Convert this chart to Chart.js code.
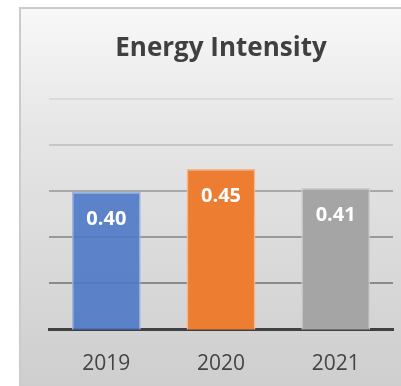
<!DOCTYPE html>
<html>
<head>
<meta charset="utf-8">
<script src="https://cdn.jsdelivr.net/npm/chart.js@4/dist/chart.umd.min.js"></script>
<style>
  html, body { margin: 0; padding: 0; background: #ffffff; }
  #wrap { position: relative; width: 401px; height: 386px; overflow: hidden; }
  #panel {
    position: absolute; left: 19px; top: 7px; width: 400px; height: 400px;
    border-left: 2px solid #cbcbcb; border-top: 2px solid #cbcbcb;
    background: linear-gradient(to bottom, #f8f8f8 0%, #e6e6e6 30%, #cccccc 100%);
  }
  #c { position: absolute; left: 0; top: 0; }
</style>
</head>
<body>
<div id="wrap">
  <div id="panel"></div>
  <canvas id="c" width="401" height="386"></canvas>
</div>
<script>
const categories = ['2019', '2020', '2021'];
const intensityValues = [0.398, 0.448, 0.407];
const barColors = ['rgba(78,121,199,0.9)', '#ED7D31', '#A5A5A5'];
const barBorderColors = ['#9db5e3', '#f6b68a', '#cdcdcd'];
const chartTitle = 'Energy Intensity';
const gridColors = { 0.2: '#8a8a8a', 0.3: '#999999', 0.4: '#a9a9a9', 0.5: '#c6c6c6', 0.6: '#dadada' };

const valueLabels = {
  id: 'valueLabels',
  afterDatasetsDraw(chart) {
    const ctx = chart.ctx;
    const meta = chart.getDatasetMeta(0);
    ctx.save();
    ctx.font = 'bold 20px "Open Sans"';
    ctx.fillStyle = '#ffffff';
    ctx.textAlign = 'center';
    ctx.textBaseline = 'middle';
    meta.data.forEach((bar, i) => {
      const v = chart.data.datasets[0].data[i];
      ctx.fillText(v.toFixed(2), bar.x, bar.y + 27);
    });
    ctx.restore();
  }
};

new Chart(document.getElementById('c'), {
  type: 'bar',
  data: {
    labels: categories,
    datasets: [{
      data: intensityValues,
      backgroundColor: barColors,
      borderColor: barBorderColors,
      borderWidth: 1.5,
      categoryPercentage: 0.6,
      barPercentage: 1.0
    }]
  },
  options: {
    responsive: false,
    animation: false,
    devicePixelRatio: 1,
    layout: { padding: { left: 49, right: 8, top: 0, bottom: 0 } },
    plugins: {
      legend: { display: false },
      tooltip: { enabled: false },
      title: {
        display: true,
        text: chartTitle,
        color: '#404040',
        font: { family: '"Open Sans"', size: 26, weight: 'bold', lineHeight: 1.2 },
        padding: { top: 33, bottom: 34.8 }
      }
    },
    scales: {
      x: {
        grid: { display: false, drawTicks: false },
        border: { display: true, color: '#404040', width: 3 },
        ticks: {
          color: '#454545',
          font: { family: '"Open Sans"', size: 21 },
          padding: 22
        },
        afterFit(scale) { scale.height = 56.5; }
      },
      y: {
        min: 0.1,
        max: 0.6,
        ticks: { display: false, stepSize: 0.1 },
        border: { display: false },
        grid: {
          drawTicks: false,
          lineWidth: 2,
          color(ctx) {
            const v = Math.round(ctx.tick.value * 10) / 10;
            return gridColors[v] || 'rgba(0,0,0,0)';
          }
        },
        afterFit(scale) { scale.width = 0; }
      }
    }
  },
  plugins: [valueLabels]
});
</script>
</body>
</html>
